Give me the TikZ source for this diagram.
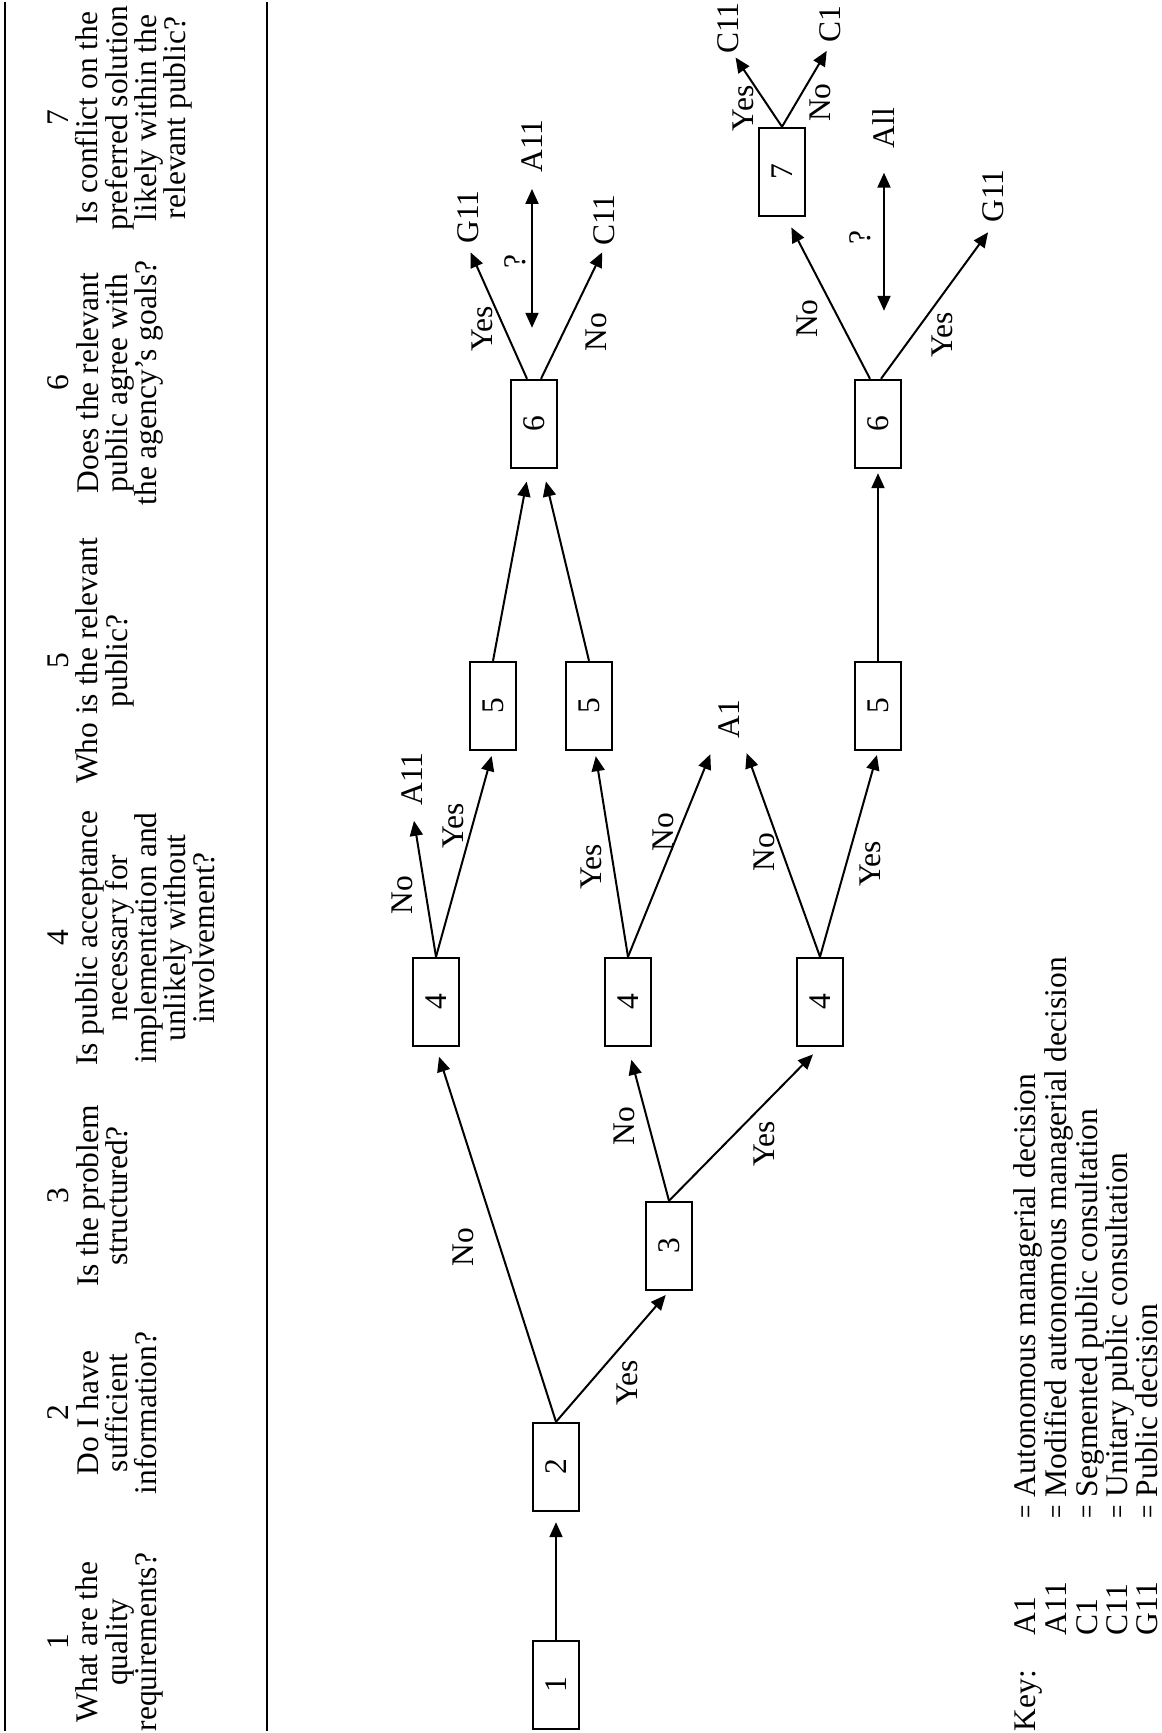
\documentclass[tikz,border=0pt]{standalone}
\usepackage{fontspec}
\setmainfont{Liberation Serif}
\usepackage{graphicx}
\usetikzlibrary{arrows.meta, calc}
\newcommand{\figfont}{\fontsize{15.75pt}{14.6pt}\selectfont}
\newcommand{\keyeq}{\scalebox{0.75}[1]{=}}

\begin{document}
\begin{tikzpicture}[
    x=0.5pt, y=-0.5pt, >={Triangle[length=7.5pt, width=6.5pt]}, line width=1pt,
    every node/.style={font=\figfont},
    box/.style={draw, line width=1.2pt, minimum width=44pt, minimum height=22.8pt, inner sep=0pt, rotate=90},
    head/.style={anchor=north, align=center, inner sep=0pt, rotate=90},
    outc/.style={inner sep=1pt, rotate=90},
    lbl/.style={inner sep=0pt, rotate=90},
    keyt/.style={anchor=north west, inner sep=0pt, font=\fontsize{15.75pt}{14.3pt}\selectfont, rotate=90},
    arr/.style={->},
    dbl/.style={<->}
]
\useasboundingbox (0,0) rectangle (1161,1733);

% question row
\draw[line width=1.2pt] (5,2) -- (5,1731);
\draw[line width=1.2pt] (267,2) -- (267,1731);
\node[head] (h1) at (47,1642) {1\\What are the\\quality\\requirements?};
\node[head] (h2) at (47,1413) {2\\Do I have\\sufficient\\information?};
\node[head] (h3) at (47,1196) {3\\Is the problem\\structured?};
\node[head] (h4) at (47,938) {4\\Is public acceptance\\necessary for\\implementation and\\unlikely without\\involvement?};
\node[head] (h5) at (47,661) {5\\Who is the relevant\\public?};
\node[head] (h6) at (47,383) {6\\Does the relevant\\public agree with\\the agency's goals?};
\node[head] (h7) at (47,118) {7\\Is conflict on the\\preferred solution\\likely within the\\relevant public?};

% decision boxes
\node[box] (b1) at (556,1685) {1};
\node[box] (b2) at (556,1467) {2};
\node[box] (b3) at (669,1246) {3};
\node[box] (b4a) at (436,1002) {4};
\node[box] (b4b) at (628,1002) {4};
\node[box] (b4c) at (820,1002) {4};
\node[box] (b5a) at (493,706) {5};
\node[box] (b5b) at (589,706) {5};
\node[box] (b5c) at (878,706) {5};
\node[box] (b6a) at (534,424) {6};
\node[box] (b6b) at (878,424) {6};
\node[box] (b7) at (782,172) {7};

% outcomes
\node[outc] (a11a) at (412,779) {A11};
\node[outc] (a1) at (729,719) {A1};
\node[outc] (g11a) at (468,217) {G11};
\node[outc] (a11b) at (532,146) {A11};
\node[outc] (c11a) at (604,220) {C11};
\node[outc] (g11b) at (993,196) {G11};
\node[outc] (allb) at (884,128) {All};
\node[outc] (c11c) at (728,28) {C11};
\node[outc] (c1) at (830,24) {C1};

\draw[arr, shorten >=5pt] (b1.east) -- (b2.west);
\draw[arr, shorten >=2.5pt] (b2.east) -- node[xshift=7.25pt, yshift=-13.25pt, lbl] (yes23) {Yes} (b3.west);
\draw[arr, shorten >=5pt] (b2.east) -- node[xshift=-16.5pt, yshift=-6.25pt, lbl] (no24) {No} (b4a.west);
\draw[arr, shorten >=6.5pt] (b3.east) -- node[xshift=-12.25pt, yshift=-1pt, lbl] (no34) {No} (b4b.west);
\draw[arr, shorten >=5pt] (b3.east) -- node[xshift=9.75pt, yshift=-10pt, lbl] (yes34) {Yes} (b4c.west);
\draw[arr, shorten >=6.2pt] (b4a.east) -- node[xshift=-11pt, yshift=-6.1pt, lbl] (no4a) {No} (a11a.west);
\draw[arr, shorten >=2.5pt] (b4a.east) -- node[xshift=-5.45pt, yshift=14pt, lbl] (yes4a) {Yes} (b5a.west);
\draw[arr, shorten >=2.5pt] (b4b.east) -- node[xshift=-10pt, yshift=-6.5pt, lbl] (yes4b) {Yes} ([xshift=3pt]b5b.west);
\draw[arr, shorten >=7pt] (b4b.east) -- node[xshift=-4.25pt, yshift=8.6pt, lbl] (no4b) {No} (a1.north west);
\draw[arr, shorten >=6.3pt] (b4c.east) -- node[xshift=-8.25pt, yshift=-1.65pt, lbl] (no4c) {No} (a1.south west);
\draw[arr, shorten >=2pt] (b4c.east) -- node[xshift=10.75pt, yshift=-5pt, lbl] (yes4c) {Yes} (b5c.west);
\draw[arr, shorten >=6.3pt] (b5a.east) -- ([xshift=-2.5pt]b6a.west);
\draw[arr, shorten >=6.3pt] (b5b.east) -- ([xshift=4.5pt]b6a.west);
\draw[arr, shorten >=2pt] (b5c.east) -- (b6b.west);
\draw[arr, shorten >=3.2pt] ([xshift=-3.5pt]b6a.east) -- node[xshift=-7.75pt, yshift=-8.2pt, lbl] (yes6a) {Yes} (g11a.west);
\draw[arr, shorten >=2pt] ([xshift=3.5pt]b6a.east) -- node[xshift=11.75pt, yshift=-9.2pt, lbl] (no6a) {No} (c11a.west);
\draw[dbl, shorten <=6.7pt, shorten >=25.5pt] (a11b.west) -- node[xshift=-8.5pt, yshift=7.9pt, lbl] (q6a) {?} (a11b.west |- b6a.east);
\draw[arr, shorten >=5.8pt] ([xshift=-4pt]b6b.east) -- node[xshift=-10.5pt, yshift=-10.25pt, lbl] (no6b) {No} ([xshift=2pt]b7.west);
\draw[arr, shorten >=4.2pt] ([xshift=1.5pt]b6b.east) -- node[xshift=2.5pt, yshift=-16.45pt, lbl] (yes6b) {Yes} (g11b.west);
\draw[dbl, shorten <=10.8pt, shorten >=34pt] (allb.west) -- node[xshift=-12pt, yshift=13.8pt, lbl] (q6b) {?} (allb.west |- b6b.east);
\draw[arr, shorten >=0.5pt] (b7.east) -- node[xshift=-7.75pt, yshift=-8.2pt, lbl] (yes7) {Yes} ([xshift=3.5pt]c11c.west);
\draw[arr, shorten >=3.2pt] (b7.east) -- node[xshift=7pt, yshift=-8.25pt, lbl] (no7) {No} (c1.west);

% key
\node[keyt] (key) at (1013,1732) {\begin{tabular}{@{}p{48pt}@{}p{58.5pt}@{}p{10.5pt}@{}l@{}}
Key: & A1 & \keyeq & Autonomous managerial decision\\
 & A11 & \keyeq & Modified autonomous managerial decision\\
 & C1 & \keyeq & Segmented public consultation\\
 & C11 & \keyeq & Unitary public consultation\\
 & G11 & \keyeq & Public decision
\end{tabular}};
\end{tikzpicture}
\end{document}
